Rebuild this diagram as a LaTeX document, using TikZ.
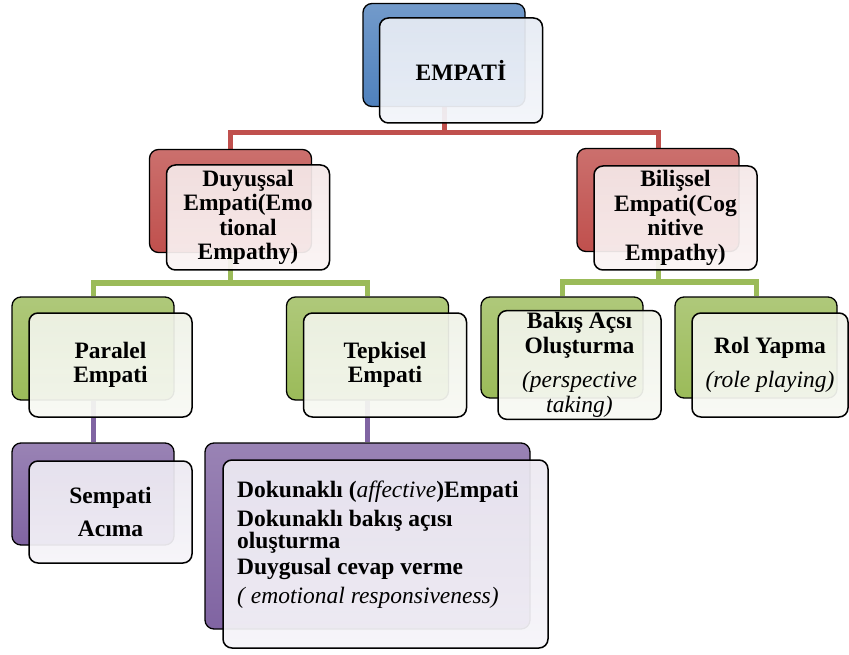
\documentclass[tikz,border=0pt]{standalone}
\usepackage{fontspec}
\setmainfont{Liberation Serif}
\definecolor{bbase}{HTML}{4F81BD}
\definecolor{rbase}{HTML}{C0504D}
\definecolor{gbase}{HTML}{9BBB59}
\definecolor{pbase}{HTML}{8064A2}
\definecolor{bfront}{HTML}{E6EBF4}
\definecolor{rfront}{HTML}{F5E8E8}
\definecolor{gfront}{HTML}{F0F3E8}
\definecolor{pfront}{HTML}{ECE9F2}
\newcommand{\boxfont}{\fontsize{23.5}{24.5}\selectfont}
\pgfdeclarelayer{bglayer}
\pgfdeclarelayer{connlayer}
\pgfsetlayers{bglayer,connlayer,main}
\begin{document}
\begin{tikzpicture}[x=1pt,y=-1pt,
  backbox/.style={draw=black, line width=1.3pt, rounded corners=9pt,
    minimum width=162pt, minimum height=103pt, inner sep=0pt},
  frontbox/.style={draw=black, line width=1.5pt, rounded corners=9pt,
    minimum width=163pt, minimum height=104pt, inner sep=2pt, align=center,
    font=\bfseries\boxfont, fill opacity=0.93, text opacity=1},
  blueback/.style={top color=bbase!80!white, bottom color=bbase},
  redback/.style={top color=rbase!82!white, bottom color=rbase},
  greenback/.style={top color=gbase!80!white, bottom color=gbase},
  purpleback/.style={top color=pbase!80!white, bottom color=pbase},
  bluefront/.style={top color=bfront, bottom color=bfront!45!white},
  redfront/.style={top color=rfront, bottom color=rfront!45!white},
  greenfront/.style={top color=gfront, bottom color=gfront!45!white},
  purplefront/.style={top color=pfront, bottom color=pfront!45!white},
  conn/.style={line width=5pt, line join=miter},
  redc/.style={conn, draw=rbase},
  greenc/.style={conn, draw=gbase},
  purplec/.style={conn, draw=pbase}
]
\begin{pgfonlayer}{bglayer}
\fill[white] (0,0) rectangle (849,655);
\end{pgfonlayer}
\useasboundingbox (0,0) rectangle (849,655);

% bus coordinates
\coordinate (busA) at (0,133);
\coordinate (busB) at (0,283);
\coordinate (busC) at (0,282);

% back boxes
\node[backbox, blueback] (empB) at (444,55) {};
\node[backbox, redback] (duyB) at (230.5,201) {};
\node[backbox, redback] (bilB) at (658,200) {};
\node[backbox, greenback] (parB) at (93,348.5) {};
\node[backbox, greenback] (tepB) at (367.5,348.5) {};
\node[backbox, greenback, minimum height=101pt] (bakB) at (562,347.5) {};
\node[backbox, greenback, minimum height=101pt] (rolB) at (756,347.5) {};
\node[backbox, purpleback, minimum height=102pt] (sempB) at (93,494) {};
\node[backbox, purpleback, minimum width=325pt, minimum height=186pt] (dokB) at (367.5,536) {};

% front boxes
\node[frontbox, bluefront, minimum height=105pt] (empF) at (461,70.5) {EMPATİ};
\node[frontbox, redfront, minimum height=105pt] (duyF) at (248,217.5) {Duyuşsal\\Empati(Emo\\tional\\Empathy)};
\node[frontbox, redfront] (bilF) at (675.5,218) {Bilişsel\\Empati(Cog\\nitive\\Empathy)};
\node[frontbox, greenfront] (parF) at (110.5,365) {Paralel\\Empati};
\node[frontbox, greenfront] (tepF) at (385,365) {Tepkisel\\Empati};
\node[frontbox, greenfront] (bakF) at (579.5,365) {Bakış Açsı\\Oluşturma\\[10pt]{\mdseries\itshape(perspective}\\{\mdseries\itshape taking)}};
\node[frontbox, greenfront, minimum width=156pt] (rolF) at (770,365) {Rol Yapma\\[10pt]{\mdseries\itshape(role playing)}};
\node[frontbox, purplefront, minimum height=102pt] (sempF) at (110.5,512) {Sempati\\[9pt]Acıma};
\node[frontbox, purplefront, minimum width=325pt, minimum height=188pt] (dokF) at (385.5,554) {};
\node[anchor=north west, inner sep=0pt, align=left, font=\bfseries\fontsize{23.5}{21.5}\selectfont] (dokT) at (237,481)
  {Dokunaklı ({\mdseries\itshape affective})Empati\\[7.5pt]
   Dokunaklı bakış açısı\\
   oluşturma\\[4.5pt]
   Duygusal cevap verme\\[7.5pt]
   {\mdseries\itshape ( emotional responsiveness)}};

% connectors (behind the boxes)
\begin{pgfonlayer}{connlayer}
\draw[redc] (empB.south) -- (empB.south |- busA);
\draw[redc] (duyB.north) -- (duyB.north |- busA) -- (bilB.north |- busA) -- (bilB.north);
\draw[greenc] (duyB.south) -- (duyB.south |- busB);
\draw[greenc] (parB.north) -- (parB.north |- busB) -- (tepB.north |- busB) -- (tepB.north);
\draw[greenc] (bilB.south) -- (bilB.south |- busC);
\draw[greenc] (bakB.north) -- (bakB.north |- busC) -- (rolB.north |- busC) -- (rolB.north);
\draw[purplec] (parB.south) -- (sempB.north);
\draw[purplec] (tepB.south) -- (dokB.north);
\end{pgfonlayer}
\end{tikzpicture}
\end{document}
